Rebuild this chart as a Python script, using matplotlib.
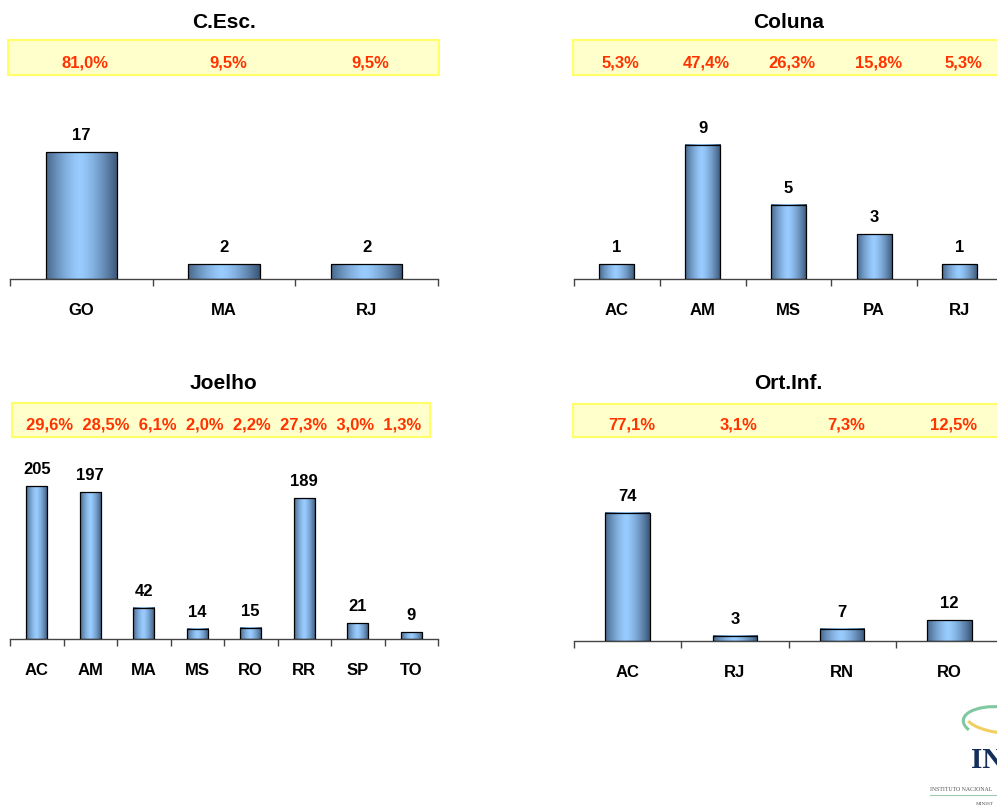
import numpy as np
import matplotlib
matplotlib.use('Agg')
import matplotlib.pyplot as plt
from matplotlib.patches import Rectangle, Arc
from matplotlib.transforms import blended_transform_factory, offset_copy

plt.rcParams['font.family'] = ['Liberation Sans', 'DejaVu Sans']
plt.rcParams['font.weight'] = 'bold'

# ---------------- data ----------------
cesc_title = 'C.Esc.'
cesc_cats = ['GO', 'MA', 'RJ']
cesc_vals = [17, 2, 2]
cesc_pcts = ['81,0%', '9,5%', '9,5%']

coluna_title = 'Coluna'
coluna_cats = ['AC', 'AM', 'MS', 'PA', 'RJ']
coluna_vals = [1, 9, 5, 3, 1]
coluna_pcts = ['5,3%', '47,4%', '26,3%', '15,8%', '5,3%']

joelho_title = 'Joelho'
joelho_cats = ['AC', 'AM', 'MA', 'MS', 'RO', 'RR', 'SP', 'TO']
joelho_vals = [205, 197, 42, 14, 15, 189, 21, 9]
joelho_pcts = ['29,6%', '28,5%', '6,1%', '2,0%', '2,2%', '27,3%', '3,0%', '1,3%']

ortinf_title = 'Ort.Inf.'
ortinf_cats = ['AC', 'RJ', 'RN', 'RO']
ortinf_vals = [74, 3, 7, 12]
ortinf_pcts = ['77,1%', '3,1%', '7,3%', '12,5%']

# ---------------- layout ----------------
W, H = 997, 810
fig = plt.figure(figsize=(W / 100, H / 100), dpi=100)
fig.patch.set_facecolor('white')


def fx(px):
    return px / W


def fy(py):
    return 1 - py / H


PCT_COLOR = '#FF3300'
BOX_FILL = '#FFFFCC'
BOX_EDGE = '#FFFF66'
AXIS_COLOR = '#444444'

# horizontal gradient for the bars
xs = np.linspace(0, 1, 256)
t = np.clip(np.abs(xs - 0.47) / 0.53, 0, 1) ** 1.4
dark = np.array([0.22, 0.33, 0.46])
light = np.array([0.60, 0.80, 1.00])
grad = (light[None, :] * (1 - t[:, None]) + dark[None, :] * t[:, None])[None, :, :]


def panel(cats, vals, pcts, title, left, right, top, base, px_per_unit,
          bar_w, box, title_xy, pct_y, joined=False, pct_center=None):
    ax = fig.add_axes([fx(left), fy(base), (right - left) / W, (base - top) / H])
    n = len(cats)
    ymax = (base - top) / px_per_unit
    x = np.arange(n)
    bars = ax.bar(x, vals, width=bar_w, facecolor='none', edgecolor='black',
                  linewidth=0.9, zorder=3)
    for r in bars:
        ax.imshow(grad, extent=[r.get_x(), r.get_x() + r.get_width(), 0, r.get_height()],
                  aspect='auto', zorder=2, interpolation='bilinear')
    for xi, v in zip(x, vals):
        ax.annotate(str(v), xy=(xi, v), xytext=(0, 8.6), textcoords='offset points',
                    ha='center', va='baseline', fontsize=12, fontweight='bold',
                    color='black', zorder=4)
    ax.set_xlim(-0.5, n - 0.5)
    ax.set_ylim(0, ymax)
    for s in ['top', 'right', 'left']:
        ax.spines[s].set_visible(False)
    ax.spines['bottom'].set_color(AXIS_COLOR)
    ax.spines['bottom'].set_linewidth(1.0)
    ax.set_yticks([])
    ax.set_xticks(np.arange(n + 1) - 0.5)
    ax.set_xticklabels([])
    ax.tick_params(axis='x', which='major', length=5, width=1, color=AXIS_COLOR,
                   direction='out')
    ax.set_xticks(x, minor=True)
    ax.set_xticklabels(cats, minor=True, fontsize=12, fontweight='bold')
    ax.tick_params(axis='x', which='minor', length=0, pad=17.6)
    ax.patch.set_visible(False)

    # title
    fig.text(fx(title_xy[0]), fy(title_xy[1]), title, ha='center', va='baseline',
             fontsize=15, fontweight='bold', color='black')
    # yellow percentage box (drawn beneath the axes)
    bx0, by0, bx1, by1 = box
    fig.patches.append(Rectangle((fx(bx0), fy(by1)), (bx1 - bx0) / W, (by1 - by0) / H,
                                 transform=fig.transFigure, facecolor=BOX_FILL,
                                 edgecolor=BOX_EDGE, linewidth=1.5, zorder=-1))
    if joined:
        fig.text(fx(pct_center), fy(pct_y), '  '.join(pcts), ha='center', va='baseline',
                 fontsize=12, fontweight='bold', color=PCT_COLOR, zorder=5)
    else:
        trans = blended_transform_factory(ax.transData, fig.transFigure)
        trans = offset_copy(trans, fig=fig, x=4, y=0, units='dots')
        for xi, p in zip(x, pcts):
            ax.text(xi, fy(pct_y), p, transform=trans, ha='center', va='baseline',
                    fontsize=12, fontweight='bold', color=PCT_COLOR, zorder=5,
                    clip_on=False)
    return ax


panel(cesc_cats, cesc_vals, cesc_pcts, cesc_title, 10, 438, 95, 279, 7.45, 0.5,
      (8, 40, 439, 74.5), (224, 28.3), 67)
panel(coluna_cats, coluna_vals, coluna_pcts, coluna_title, 574, 1002.75, 95, 279, 14.9, 0.41,
      (573, 40, 1005, 74.5), (789, 28.3), 67)
panel(joelho_cats, joelho_vals, joelho_pcts, joelho_title, 10, 438, 455, 639, 0.745, 0.40,
      (11.5, 403, 429.5, 437.3), (223, 389), 429.5, joined=True, pct_center=224)
panel(ortinf_cats, ortinf_vals, ortinf_pcts, ortinf_title, 574, 1003, 455, 641, 1.73, 0.415,
      (573, 403.5, 1005, 437.3), (788.5, 389), 429.5)

# ---------------- partial logo (bottom-right) ----------------
fig.add_artist(Arc((fx(1003), fy(724)), 80 / W, 34 / H, angle=-8, theta1=95, theta2=200,
                   transform=fig.transFigure, color='#7FC8A0', linewidth=2.2))
fig.add_artist(Arc((fx(1003), fy(720)), 74 / W, 26 / H, angle=-8, theta1=190, theta2=290,
                   transform=fig.transFigure, color='#F2D060', linewidth=2.2))
fig.text(fx(971), fy(768), 'IN', ha='left', va='baseline', fontsize=21,
         fontweight='bold', family=['Liberation Serif', 'DejaVu Serif'], color='#14305A')
fig.text(fx(930), fy(791), 'INSTITUTO NACIONAL', ha='left', va='baseline', fontsize=4.2,
         fontweight='normal', family=['Liberation Serif', 'DejaVu Serif'], color='#555555')
fig.add_artist(plt.Line2D([fx(930), fx(997)], [fy(795), fy(795)], transform=fig.transFigure,
                          color='#9CC9B0', linewidth=0.8))
fig.text(fx(976), fy(805), 'MINIST', ha='left', va='baseline', fontsize=3.8,
         fontweight='normal', family=['Liberation Serif', 'DejaVu Serif'], color='#555555')

fig.savefig('out.png', dpi=100, facecolor='white')
